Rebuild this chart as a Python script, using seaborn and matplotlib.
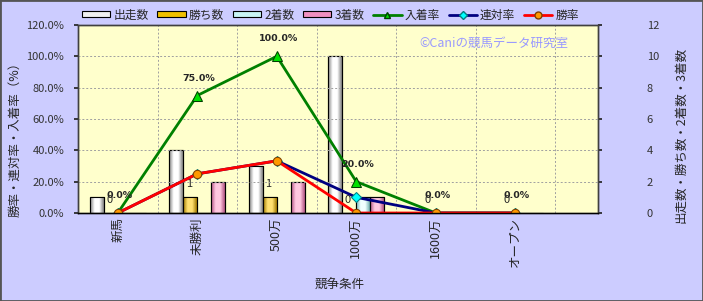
import numpy as np
import pandas as pd
import matplotlib
matplotlib.use("Agg")
import matplotlib.pyplot as plt
import seaborn as sns
from matplotlib.colors import LinearSegmentedColormap
from matplotlib.lines import Line2D
from matplotlib.patches import Patch, Rectangle

categories = ["新馬", "未勝利", "500万", "1000万", "1600万", "オープン"]
starts = [1, 4, 3, 10, 0, 0]
wins = [0, 1, 1, 0, 0, 0]
seconds = [0, 0, 0, 1, 0, 0]
thirds = [0, 2, 2, 1, 0, 0]
place_rate = [0.0, 75.0, 100.0, 20.0, 0.0, 0.0]
quinella_rate = [0.0, 25.0, 33.3, 10.0, 0.0, 0.0]
win_rate = [0.0, 25.0, 33.3, 0.0, 0.0, 0.0]

bar_names = ["出走数", "勝ち数", "2着数", "3着数"]
bar_colors = ["#F0F0F0", "#F0C000", "#C8F4F4", "#F090C0"]
bar_dark = ["#808080", "#A07800", "#70B0B0", "#B05080"]
bar_light = ["#FFFFFF", "#FFE070", "#F0FFFF", "#FFC8E0"]

sns.set_theme(style="white")
plt.rcParams['font.family'] = ['Noto Sans CJK JP', 'DejaVu Sans']

df = pd.DataFrame({
    "cat": categories * 4,
    "series": sum([[n] * len(categories) for n in bar_names], []),
    "value": starts + wins + seconds + thirds,
})

fig = plt.figure(figsize=(7.03, 3.01), dpi=100)
fig.patch.set_facecolor("#CCCCFF")
ax = fig.add_axes([78/703, 1-213/301, 520/703, 188/301])
ax.set_facecolor("#FFFFCC")

sns.barplot(data=df, x="cat", y="value", hue="series", order=categories,
            hue_order=bar_names, palette=bar_colors, width=0.7, ax=ax,
            edgecolor="black", linewidth=0.8, legend=False, saturation=1)

# cylinder-like shading
for i, cont in enumerate(ax.containers):
    cmap = LinearSegmentedColormap.from_list("g", [bar_dark[i], bar_light[i], bar_light[i], bar_dark[i]])
    grad = np.linspace(0, 1, 64).reshape(1, -1)
    for p in cont.patches:
        h = p.get_height()
        if h <= 0:
            continue
        x0 = p.get_x(); w = p.get_width()
        im = ax.imshow(grad, cmap=cmap, aspect="auto", extent=[x0, x0 + w, 0, h],
                       zorder=p.get_zorder() + 0.1, interpolation="bilinear")
        im.set_clip_path(p)
        ax.add_patch(Rectangle((x0, 0), w, h, fill=False, edgecolor="black",
                               linewidth=0.8, zorder=p.get_zorder() + 0.2))

# win labels on 勝ち数 bars
for p, v in zip(ax.containers[1].patches, wins):
    ax.annotate(str(v), (p.get_x() + p.get_width() / 2, v), xytext=(-1, 9.5),
                textcoords="offset points", ha="center", va="center", fontsize=8,
                zorder=10)

ax.set_xlim(-0.5, 6.04)
ax.set_ylim(0, 12)
ax.set_xlabel("")
ax.set_ylabel("")
ax.set_xticks(range(len(categories)))
ax.set_xticklabels(categories, rotation=90, fontsize=9)
ax.set_xticks(np.arange(0.5, 6.0, 1), minor=True)
ax.grid(True, which="minor", axis="x", color="#A0A0A0", linestyle=(0, (2, 2)), linewidth=0.7)
ax.tick_params(axis="x", which="major", length=0, pad=3)
ax.tick_params(axis="x", which="minor", length=3, color="#404040")

ax2 = ax.twinx()
# counts axis on the right, percent axis on the left
ax.yaxis.tick_right()
ax.set_yticks(range(0, 13, 2))
ax.tick_params(axis="y", left=False, right=True, labelleft=False, labelright=True,
               length=3, labelsize=8, labelcolor="#333333", pad=32)

x = np.arange(len(categories))
sns.lineplot(x=x, y=place_rate, ax=ax2, color="#008000", linewidth=2,
             marker="^", markersize=7, markerfacecolor="#00E000", markeredgecolor="#004000")
sns.lineplot(x=x, y=quinella_rate, ax=ax2, color="#000080", linewidth=2,
             marker="D", markersize=5, markerfacecolor="#00FFFF", markeredgecolor="#008080")
sns.lineplot(x=x, y=win_rate, ax=ax2, color="#FF0000", linewidth=2,
             marker="o", markersize=6, markerfacecolor="#FF9900", markeredgecolor="#804000")
for xi, v in zip(x, place_rate):
    ax2.annotate(f"{v:.1f}%", (xi, v), xytext=(1, 12.5), textcoords="offset points",
                 ha="center", va="center", fontsize=6.8, fontweight="bold", zorder=10,
                 family="DejaVu Sans")
ax2.set_ylim(0, 120)
ax2.set_xlim(-0.5, 6.04)
ax2.yaxis.tick_left()
ax2.set_yticks(range(0, 121, 20))
ax2.set_yticklabels([f"{t:.1f}%" for t in range(0, 121, 20)])
ax2.grid(True, axis="y", color="#A0A0A0", linestyle=(0, (2, 2)), linewidth=0.7)
ax2.tick_params(axis="y", left=True, right=False, labelleft=True, labelright=False,
                length=3, labelsize=8, labelcolor="#333333", pad=7)
for a in (ax, ax2):
    for s in a.spines.values():
        s.set_color("#404040")
        s.set_linewidth(1)
ax2.spines["bottom"].set_color("black")

ax.text(0.80, 0.905, "©Caniの競馬データ研究室", transform=ax.transAxes, ha="center",
        va="center", fontsize=9, color="#9999FF", zorder=1)

fig.text(15/703, 1-136/301, "勝率・連対率・入着率（%）", rotation=90, ha="center", va="center", fontsize=9)
fig.text(681/703, 1-135/301, "出走数・勝ち数・2着数・3着数", rotation=90, ha="center", va="center", fontsize=9)
fig.text(340/703, 1-285/301, "競争条件", ha="center", va="center", fontsize=9)

handles = [Patch(facecolor=c, edgecolor="black", linewidth=0.8) for c in bar_colors]
handles += [
    Line2D([], [], color="#008000", lw=2, marker="^", ms=5, mfc="#00E000", mec="#004000"),
    Line2D([], [], color="#000080", lw=2, marker="D", ms=4, mfc="#00FFFF", mec="#008080"),
    Line2D([], [], color="#FF0000", lw=2, marker="o", ms=5, mfc="#FF9900", mec="#804000"),
]
labels = bar_names + ["入着率", "連対率", "勝率"]
fig.legend(handles, labels, loc="center left", bbox_to_anchor=(82/703, 1-15/301), ncol=7,
           frameon=False, fontsize=8.5, handlelength=2.4, handleheight=0.45,
           handletextpad=0.25, columnspacing=0.75, borderaxespad=0, borderpad=0)

fig.add_artist(Rectangle((0, 0), 1, 1, transform=fig.transFigure, fill=False,
                         edgecolor="#555555", linewidth=2))

fig.savefig("out.png", dpi=100, facecolor=fig.get_facecolor())
